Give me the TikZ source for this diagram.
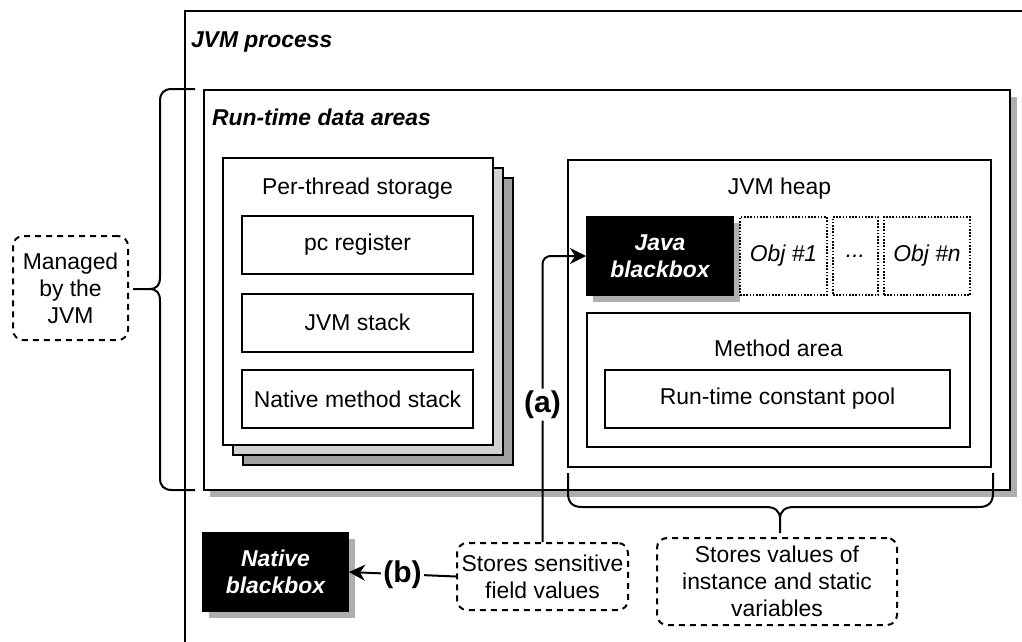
\documentclass[tikz,border=0pt]{standalone}
\usepackage{fontspec}
\setmainfont{Liberation Sans}
\usetikzlibrary{arrows.meta}
\definecolor{shadowgray}{RGB}{175,175,175}
\definecolor{stackmid}{RGB}{210,210,210}
\definecolor{stackback}{RGB}{160,160,160}
\tikzset{
  txt/.style={font=\fontsize{22.9}{27}\selectfont},
  box/.style={draw, fill=white, inner sep=0pt, txt, align=center},
  shadowfill/.style={fill=shadowgray, draw=none},
  blackbox/.style={box, fill=black, text=white,
      font=\fontsize{22.9}{27}\selectfont\bfseries\itshape},
  objbox/.style={box, dash pattern=on 1.6pt off 1.6pt, line width=1.5pt,
      font=\fontsize{22.9}{27}\selectfont\itshape},
  notebox/.style={box, dash pattern=on 6pt off 5pt, rounded corners=10pt},
  title/.style={anchor=west, inner sep=0pt,
      font=\fontsize{22.9}{27}\selectfont\bfseries\itshape},
  caption/.style={inner sep=0pt, txt},
  edgelabel/.style={fill=white, inner sep=2pt,
      font=\fontsize{30}{34}\selectfont\bfseries},
  arr/.style={-{Stealth[length=16pt, width=16pt, inset=5pt]}},
}
\begin{document}
\begin{tikzpicture}[x=1pt, y=-1pt, line width=2pt]
\useasboundingbox (0,0) rectangle (1022,642);
\clip (0,0) rectangle (1022,642);

% JVM process container (runs past the right and bottom edges)
\node[box, minimum width=855pt, minimum height=649pt] (proc) at (612.5,335.5) {};
\node[title] (proctitle) at (190,42) {JVM process};

% Run-time data areas, with its drop shadow
\fill[shadowfill] (210,97) rectangle (1017,497);
\node[box, minimum width=806pt, minimum height=400pt] (rtda) at (607,290) {};
\node[title] (rtdatitle) at (211,117) {Run-time data areas};

% Per-thread storage, drawn as a stack of three sheets
\node[box, fill=stackback, minimum width=270pt, minimum height=287pt] (pts3) at (377.5,321.5) {};
\node[box, fill=stackmid, minimum width=270pt, minimum height=287pt] (pts2) at (367.5,311.5) {};
\node[box, minimum width=270pt, minimum height=287pt] (pts) at (357.5,301.5) {};
\node[caption] (ptstitle) at (357.5,189) {Per-thread storage};
\node[box, minimum width=231pt, minimum height=58pt] (pc) at (357.5,245) {pc register};
\node[box, minimum width=231pt, minimum height=58pt] (jstack) at (357.5,322.5) {JVM stack};
\node[box, minimum width=231pt, minimum height=58pt] (nstack) at (357.5,399) {Native method stack};

% JVM heap
\node[box, minimum width=423pt, minimum height=307pt] (heap) at (779.5,313.5) {};
\node[caption] (heaptitle) at (779.5,189) {JVM heap};
\fill[shadowfill] (593,223) rectangle (740,302);
\node[blackbox, minimum width=146pt, minimum height=78pt] (jb) at (660,256) {Java\\blackbox};
\node[objbox, minimum width=87pt, minimum height=78pt] (obj1) at (783.5,256) {Obj \#1};
\node[objbox, minimum width=45pt, minimum height=78pt] (objdots) at (855.5,256) {...};
\node[objbox, minimum width=86pt, minimum height=78pt] (objn) at (927,256) {Obj \#n};
\node[box, minimum width=383pt, minimum height=134pt] (method) at (778.5,380) {};
\node[caption] (methodtitle) at (778.5,348) {Method area};
\node[box, minimum width=345pt, minimum height=58pt] (pool) at (777.5,399) {Run-time constant pool};

% Outside the run-time data areas
\fill[shadowfill] (209,539) rectangle (355,618);
\node[blackbox, minimum width=145pt, minimum height=78pt] (nb) at (275.5,572) {Native\\blackbox};
\node[notebox, minimum width=115pt, minimum height=104pt] (managed) at (70.5,288) {Managed\\by the\\JVM};
\node[notebox, minimum width=171pt, minimum height=67pt] (sens) at (542.5,576.5) {Stores sensitive\\field values};
\node[notebox, minimum width=240pt, minimum height=87pt] (vals) at (777,581.5) {Stores values of\\instance and static\\variables};

% Connectors
\draw[arr, rounded corners=8pt] (sens.north)
  -- node[edgelabel, pos=0.48] (la) {(a)} (sens.north |- jb.west) -- (jb.west);
\draw[arr] (sens.west) -- node[edgelabel] (lb) {(b)} (nb.east);

% Brace grouping the run-time data areas
\draw (195,89) -- (172,89) .. controls (164,89) and (160,93) .. (160,101)
  -- (160,277) .. controls (160,285) and (157,289) .. (149,289) -- (133,289);
\draw (149,289) .. controls (157,289) and (160,293) .. (160,301)
  -- (160,478) .. controls (160,486) and (164,490) .. (172,490) -- (195,490);

% Brace under the JVM heap
\draw (568,473) -- (568,493) .. controls (568,502) and (572,507) .. (582,507)
  -- (766,507) .. controls (775,507) and (780,511) .. (780,519) -- (780,533);
\draw (780,519) .. controls (780,511) and (785,507) .. (794,507)
  -- (979,507) .. controls (989,507) and (993,502) .. (993,493) -- (993,473);
\end{tikzpicture}
\end{document}
